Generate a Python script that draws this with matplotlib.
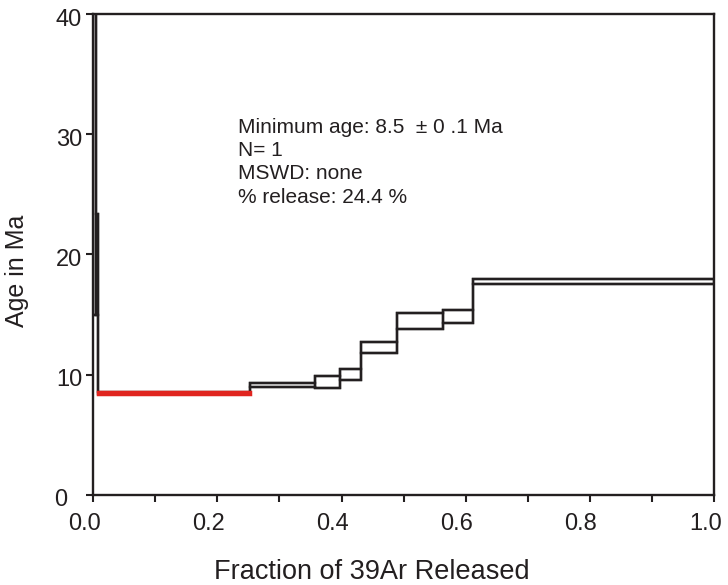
import numpy as np
import matplotlib.pyplot as plt
import matplotlib.transforms as mtransforms

plt.rcParams['font.family'] = ['Liberation Sans', 'DejaVu Sans']

# Age spectrum steps: cumulative 39Ar fraction edges, lower/upper age (Ma)
x_left = [0.0, 0.004, 0.252, 0.358, 0.397, 0.432, 0.489, 0.564, 0.612]
x_right = [0.004, 0.008, 0.358, 0.397, 0.432, 0.489, 0.564, 0.612, 1.0]
age_lo = [15.0, 15.0, 9.0, 8.9, 9.6, 11.8, 13.8, 14.3, 17.55]
age_hi = [45.0, 23.4, 9.35, 9.9, 10.5, 12.75, 15.1, 15.4, 17.95]

# plateau (minimum age) step
plat_left = 0.008
plat_right = 0.252
plat_lo = 8.4
plat_hi = 8.6

info = ['Minimum age: 8.5  \u00b1 0 .1 Ma', 'N= 1', 'MSWD: none', '% release: 24.4 %']

ink = '#231f20'
red = '#e0251f'

fig = plt.figure(figsize=(7.28, 5.85), dpi=100)
ax = fig.add_axes([0.128, 0.154, 0.853, 0.822])

xl = np.array(x_left)
xr = np.array(x_right)
lo = np.array(age_lo)
hi = np.array(age_hi)

# all steps incl. plateau, in order, for the connecting envelopes
all_l = np.concatenate([xl[:2], [plat_left], xl[2:]])
all_r = np.concatenate([xr[:2], [plat_right], xr[2:]])
all_lo = np.concatenate([lo[:2], [plat_lo], lo[2:]])
all_hi = np.concatenate([hi[:2], [plat_hi], hi[2:]])
edges = np.append(all_l, all_r[-1])
ax.stairs(all_hi, edges, color=ink, lw=1.7, baseline=None)
ax.stairs(all_lo, edges, color=ink, lw=1.7, baseline=None)

ax.bar(xl, hi - lo, width=xr - xl, bottom=lo, align='edge',
       fill=False, edgecolor=ink, linewidth=1.7)
ax.bar([plat_left], [plat_hi - plat_lo], width=[plat_right - plat_left],
       bottom=[plat_lo], align='edge', color=red, edgecolor=red, linewidth=2.5, zorder=3)

ax.text(0.233, 31.35, '\n'.join(info), fontsize=15, color=ink, va='top', ha='left',
        linespacing=1.28)

ax.set_xlim(0, 1.0)
ax.set_ylim(0, 40)
ax.set_xticks(np.arange(0, 1.01, 0.2))
ax.set_xticks(np.arange(0.1, 1.0, 0.2), minor=True)
ax.set_yticks([0, 10, 20, 30, 40])
ax.xaxis.set_major_formatter(plt.FormatStrFormatter('%.1f'))
ax.tick_params(which='both', direction='out', length=5, width=1.5, color=ink,
               labelsize=17, labelcolor=ink)
ax.tick_params(axis='x', pad=8)
ax.tick_params(axis='y', pad=3)
for s in ax.spines.values():
    s.set_linewidth(1.7)
    s.set_color(ink)

# labels sit slightly off their ticks in the original
fig.canvas.draw()
off = mtransforms.ScaledTranslation(-9 / 100, 0, fig.dpi_scale_trans)
for lab in ax.get_xticklabels():
    lab.set_transform(lab.get_transform() + off)
ylabs = ax.get_yticklabels()
for lab in ylabs:
    lab.set_transform(lab.get_transform() + mtransforms.ScaledTranslation(0, -3 / 100, fig.dpi_scale_trans))
ylabs[0].set_transform(ylabs[0].get_transform() + mtransforms.ScaledTranslation(-15 / 100, 0, fig.dpi_scale_trans))

ax.set_xlabel('Fraction of 39Ar Released', fontsize=19.5, color=ink)
ax.set_ylabel('Age in Ma', fontsize=18, color=ink)
ax.xaxis.set_label_coords(0.448, -0.133)
ax.yaxis.set_label_coords(-0.103, 0.466)

fig.savefig('out.png', dpi=100)
